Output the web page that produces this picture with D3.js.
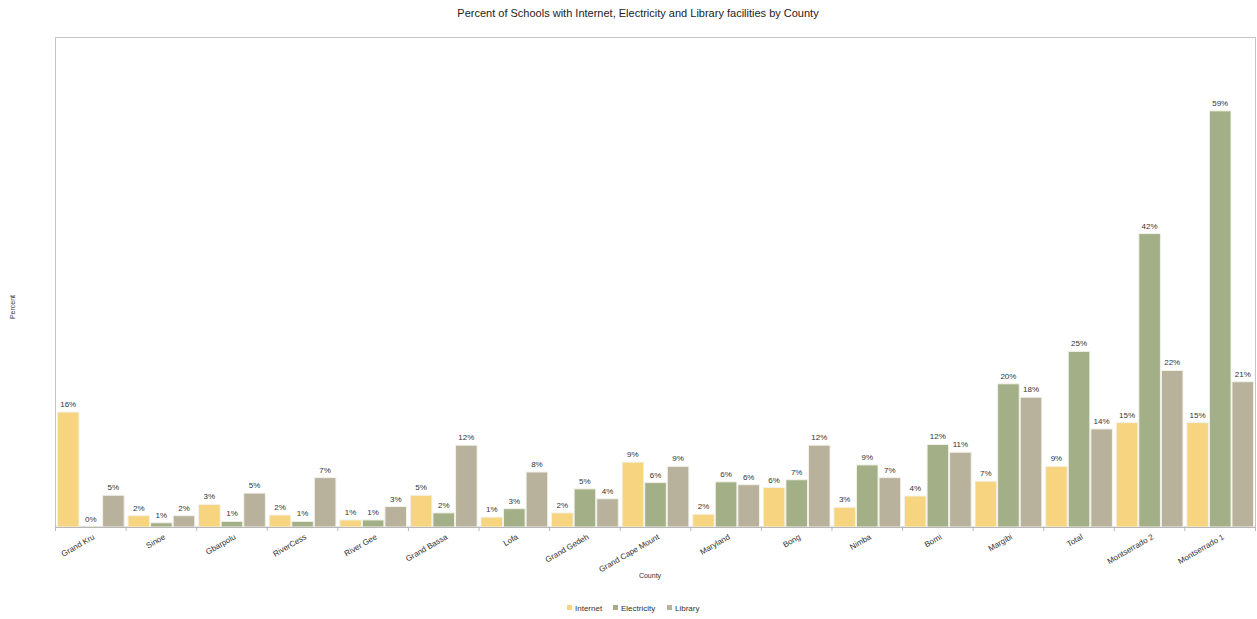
<!DOCTYPE html>
<html>
<head>
<meta charset="utf-8">
<script src="https://cdn.jsdelivr.net/npm/d3@7"></script>
<style>
  html, body { margin: 0; padding: 0; background: #fff; }
  svg { display: block; font-family: "Liberation Sans", Arial, sans-serif; }
</style>
</head>
<body>
<svg id="chart" width="1257" height="619"></svg>
<script>
const counties = ["Grand Kru", "Sinoe", "Gbarpolu", "RiverCess", "River Gee", "Grand Bassa", "Lofa", "Grand Gedeh", "Grand Cape Mount", "Maryland", "Bong", "Nimba", "Bomi", "Margibi", "Total", "Montserrado 2", "Montserrado 1"];
const internet    = [16.3, 1.6, 3.2, 1.7, 1.0, 4.5, 1.4, 2.0, 9.2, 1.8, 5.6, 2.8, 4.4, 6.5, 8.6, 14.8, 14.8];
const electricity = [0.0, 0.6, 0.8, 0.8, 1.0, 2.0, 2.6, 5.4, 6.3, 6.4, 6.7, 8.8, 11.7, 20.3, 24.9, 41.6, 59.0];
const library     = [4.5, 1.6, 4.8, 7.0, 2.9, 11.6, 7.8, 4.0, 8.6, 6.0, 11.6, 7.0, 10.6, 18.4, 13.9, 22.2, 20.6];
const seriesNames = ["Internet", "Electricity", "Library"];
const seriesColors = ["#F7D47F", "#A3AF86", "#B8B29D"];
const yMax = 69.4;

const series = [internet, electricity, library];
const svg = d3.select("#chart");
const m = { left: 55.5, right: 1255.5, top: 37.5, bottom: 527 };

// title
svg.append("text").attr("x", 638).attr("y", 17).attr("text-anchor", "middle")
  .attr("font-size", 11).attr("fill", "#222")
  .text("Percent of Schools with Internet, Electricity and Library facilities by County");

const x0 = d3.scaleBand().domain(counties).range([m.left, m.right]).paddingInner(0.04).paddingOuter(0.02);
const x1 = d3.scaleBand().domain(seriesNames).range([0, x0.bandwidth()]);
const y = d3.scaleLinear().domain([0, yMax]).range([m.bottom, m.top]);

// plot frame
svg.append("rect").attr("x", m.left).attr("y", m.top)
  .attr("width", m.right - m.left).attr("height", m.bottom - m.top)
  .attr("fill", "none").attr("stroke", "#c4c4c4").attr("stroke-width", 1);

// bars
const groups = svg.append("g").selectAll("g").data(counties).join("g")
  .attr("transform", d => `translate(${x0(d)},0)`);

seriesNames.forEach((s, si) => {
  groups.append("rect")
    .attr("x", x1(s) + 0.5)
    .attr("width", x1.bandwidth() - 1)
    .attr("y", (d, i) => y(series[si][i]))
    .attr("height", (d, i) => m.bottom - y(series[si][i]))
    .attr("fill", seriesColors[si])
    .attr("stroke", "#f2f2ea").attr("stroke-width", 1);
  groups.append("text")
    .attr("x", x1(s) + x1.bandwidth() / 2)
    .attr("y", (d, i) => y(series[si][i]) - 5)
    .attr("text-anchor", "middle").attr("font-size", 8).attr("fill", "#333")
    .text((d, i) => Math.round(series[si][i]) + "%");
});

// x axis
const xAxis = d3.axisBottom(x0).tickSize(0).tickPadding(0);
const axG = svg.append("g").attr("transform", `translate(0,${m.bottom})`).call(xAxis);
axG.select(".domain").attr("stroke", "#b8b8b8");
axG.selectAll(".tick text")
  .attr("font-size", 8).attr("fill", "#333").attr("font-family", "Liberation Sans, Arial, sans-serif")
  .attr("text-anchor", "end")
  .attr("transform", "translate(3,9) rotate(-30)")
  .attr("dy", "0.35em");
// boundary tick marks
const bounds = counties.map(c => x0(c) - x0.step() * x0.paddingInner() / 2);
bounds.push(m.right);
svg.append("g").selectAll("line").data(bounds).join("line")
  .attr("x1", d => d).attr("x2", d => d)
  .attr("y1", m.bottom).attr("y2", m.bottom + 4)
  .attr("stroke", "#b8b8b8");

// axis titles
svg.append("text").attr("x", 650).attr("y", 578).attr("text-anchor", "middle")
  .attr("font-size", 7).attr("fill", "#333").text("County");
svg.append("text").attr("transform", "translate(15,307) rotate(-90)").attr("text-anchor", "middle")
  .attr("font-size", 7).attr("fill", "#333").text("Percent");

// legend
const legendX = [567, 613, 667];
const lg = svg.append("g").selectAll("g").data(seriesNames).join("g")
  .attr("transform", (d, i) => `translate(${legendX[i]},608)`);
lg.append("rect").attr("x", 0).attr("y", -3).attr("width", 5).attr("height", 5)
  .attr("fill", d => seriesColors[seriesNames.indexOf(d)]);
lg.append("text").attr("x", 8).attr("y", 0).attr("dy", "0.35em")
  .attr("font-size", 8).attr("fill", "#333").text(d => d);
</script>
</body>
</html>
